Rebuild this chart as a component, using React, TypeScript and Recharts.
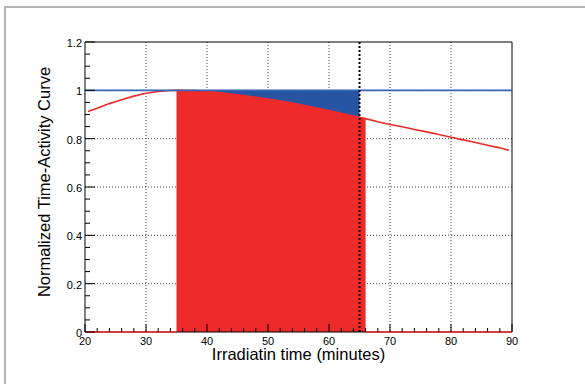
import React from "react";
import {
  ComposedChart,
  Area,
  Line,
  XAxis,
  YAxis,
  CartesianGrid,
  ReferenceLine,
  ReferenceArea,
} from "recharts";

// Irradiation time (minutes) and normalized time-activity curve values
const TIMES = [
  20.5, 22, 24, 26, 28, 30, 32, 34, 35, 36, 38, 40, 42, 44, 46, 48, 50, 52, 54,
  56, 58, 60, 62, 64, 65, 66, 68, 70, 72, 74, 76, 78, 80, 82, 84, 86, 88, 89.5,
];
const CURVE = [
  0.912, 0.926, 0.945, 0.961, 0.976, 0.988, 0.995, 0.999, 1.0, 1.0, 0.999,
  0.996, 0.991, 0.985, 0.978, 0.971, 0.964, 0.956, 0.947, 0.937, 0.927, 0.916,
  0.905, 0.894, 0.888, 0.883, 0.87, 0.859, 0.849, 0.838, 0.828, 0.817, 0.806,
  0.795, 0.784, 0.773, 0.762, 0.752,
];
const FILL_START = 35;
const FILL_END = 66;
const CUT_TIME = 65;
const REF_LEVEL = 1;

const X_DOMAIN = [20, 90];
const Y_DOMAIN = [0, 1.2];
const X_TICKS = [
  20, 22, 24, 26, 28, 30, 32, 34, 36, 38, 40, 42, 44, 46, 48, 50, 52, 54, 56,
  58, 60, 62, 64, 66, 68, 70, 72, 74, 76, 78, 80, 82, 84, 86, 88, 90,
];
const X_MAJOR = [20, 30, 40, 50, 60, 70, 80, 90];
const Y_TICKS = [
  0, 0.05, 0.1, 0.15, 0.2, 0.25, 0.3, 0.35, 0.4, 0.45, 0.5, 0.55, 0.6, 0.65,
  0.7, 0.75, 0.8, 0.85, 0.9, 0.95, 1, 1.05, 1.1, 1.15, 1.2,
];
const Y_MAJOR = [0, 0.2, 0.4, 0.6, 0.8, 1, 1.2];
const X_GRID = [30, 40, 50, 60, 70, 80];
const Y_GRID = [0.2, 0.4, 0.6, 0.8, 1];

const X_TITLE = "Irradiatin time (minutes)";
const Y_TITLE = "Normalized Time-Activity Curve";

const RED = "#ee2a2a";
const BLUE_FILL = "#2755a3";
const BLUE_LINE = "#3566b8";
const FONT = "'Liberation Sans', Arial, Helvetica, sans-serif";

const data = TIMES.map((t, i) => ({
  t,
  curve: CURVE[i],
  fill: t >= FILL_START && t <= FILL_END ? CURVE[i] : null,
  band: t >= FILL_START && t <= CUT_TIME ? [CURVE[i], REF_LEVEL] : null,
}));

const XTick = (props: any) => {
  const { x, y, payload } = props;
  const major = X_MAJOR.includes(payload.value);
  return (
    <g>
      <line x1={x} x2={x} y1={y} y2={y - (major ? 8 : 4)} stroke="#000" strokeWidth={1} />
      {major && (
        <text x={x} y={y + 12.5} textAnchor="middle" fontSize={11} fontFamily={FONT} fill="#000">
          {payload.value}
        </text>
      )}
    </g>
  );
};

const YTick = (props: any) => {
  const { x, y, payload } = props;
  const major = Y_MAJOR.includes(payload.value);
  return (
    <g>
      <line x1={x} x2={x + (major ? 10 : 5)} y1={y} y2={y} stroke="#000" strokeWidth={1} />
      {major && (
        <text x={x - 3} y={y + 5} textAnchor="end" fontSize={11} fontFamily={FONT} fill="#000">
          {String(payload.value)}
        </text>
      )}
    </g>
  );
};

export default function App() {
  return (
    <div
      style={{
        position: "absolute",
        left: 0,
        top: 0,
        width: 585,
        height: 384,
        overflow: "hidden",
        background: "#fff",
      }}
    >
      <div
        style={{
          position: "absolute",
          left: 4,
          top: 6,
          width: 700,
          height: 500,
          border: "2px solid #b4b4b4",
        }}
      />
      <div style={{ position: "absolute", left: 0, top: 0 }}>
        <ComposedChart
          width={585}
          height={384}
          data={data}
          margin={{ top: 42, right: 73, bottom: 22, left: 0 }}
        >
          <CartesianGrid
            horizontal
            vertical
            horizontalValues={Y_GRID}
            verticalValues={X_GRID}
            stroke="#444"
            strokeDasharray="1 2"
          />
          <XAxis
            dataKey="t"
            type="number"
            domain={X_DOMAIN}
            ticks={X_TICKS}
            interval={0}
            tickSize={0}
            tickMargin={0}
            tickLine={false}
            axisLine={false}
            height={30}
            tick={<XTick />}
          />
          <YAxis
            type="number"
            domain={Y_DOMAIN}
            ticks={Y_TICKS}
            interval={0}
            tickSize={0}
            tickMargin={0}
            tickLine={false}
            axisLine={false}
            width={85}
            tick={<YTick />}
          />
          <Area
            dataKey="fill"
            type="linear"
            fill={RED}
            fillOpacity={1}
            stroke="none"
            isAnimationActive={false}
            dot={false}
            activeDot={false}
          />
          <Area
            dataKey="band"
            type="linear"
            fill={BLUE_FILL}
            fillOpacity={1}
            stroke="none"
            isAnimationActive={false}
            dot={false}
            activeDot={false}
          />
          <Line
            dataKey="curve"
            type="linear"
            stroke={RED}
            strokeWidth={1.6}
            dot={false}
            activeDot={false}
            isAnimationActive={false}
          />
          <ReferenceLine y={REF_LEVEL} stroke={BLUE_LINE} strokeWidth={1.6} />
          <ReferenceArea
            x1={X_DOMAIN[0]}
            x2={X_DOMAIN[1]}
            y1={Y_DOMAIN[0]}
            y2={Y_DOMAIN[1]}
            fill="none"
            fillOpacity={0}
            stroke="#000"
            strokeWidth={1}
          />
          <ReferenceLine
            segment={[
              { x: X_DOMAIN[0], y: 0 },
              { x: FILL_START, y: 0 },
            ]}
            stroke={RED}
            strokeWidth={1.5}
          />
          <ReferenceLine
            segment={[
              { x: FILL_END, y: 0 },
              { x: X_DOMAIN[1], y: 0 },
            ]}
            stroke={RED}
            strokeWidth={1.5}
          />
          <ReferenceLine x={CUT_TIME} stroke="#000" strokeWidth={2} strokeDasharray="2 2" />
        </ComposedChart>
      </div>
      <svg
        width={585}
        height={384}
        style={{ position: "absolute", left: 0, top: 0, pointerEvents: "none" }}
      >
        <text x={298.5} y={360} textAnchor="middle" fontSize={16.5} fontFamily={FONT} fill="#000">
          {X_TITLE}
        </text>
        <text
          transform="translate(50,182) rotate(-90)"
          textAnchor="middle"
          fontSize={16.5}
          fontFamily={FONT}
          fill="#000"
        >
          {Y_TITLE}
        </text>
      </svg>
    </div>
  );
}
